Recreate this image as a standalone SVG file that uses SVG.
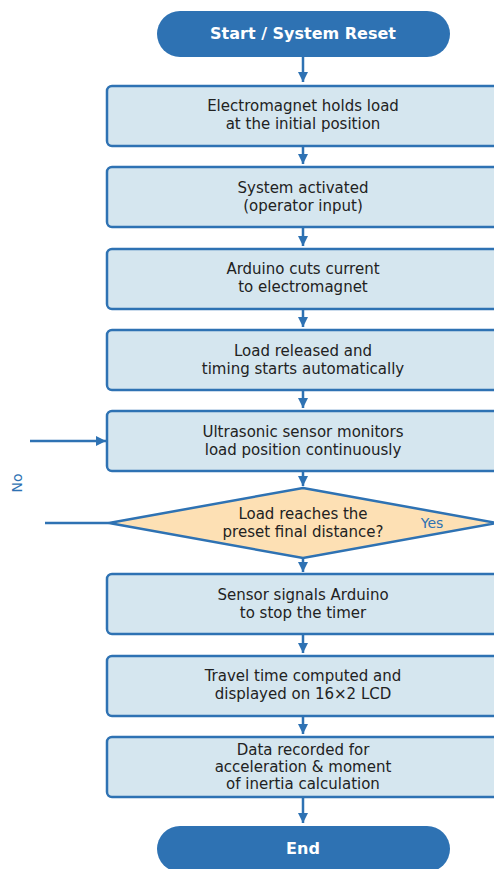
<svg xmlns="http://www.w3.org/2000/svg" width="494" height="869" viewBox="0 0 494 869">
  <defs>
    <marker id="arr" viewBox="0 0 10 10" refX="10" refY="5" markerWidth="10" markerHeight="10" markerUnits="userSpaceOnUse" orient="auto">
      <path d="M0,0 L10,5 L0,10 z" fill="#2e72b3"/>
    </marker>
    <style>
      .term { fill: #2e72b3; }
      .termtxt { font-family: "DejaVu Sans", sans-serif; font-size: 16px; font-weight: bold; fill: #ffffff; text-anchor: middle; }
      .box { fill: #d5e6ef; stroke: #2e72b3; stroke-width: 2.5; }
      .dec { fill: #fde0b4; stroke: #2e72b3; stroke-width: 2.5; }
      .txt { font-family: "DejaVu Sans", sans-serif; font-size: 15px; fill: #222222; text-anchor: middle; }
      .lbl { font-family: "DejaVu Sans", sans-serif; font-size: 14px; fill: #2e72b3; text-anchor: middle; }
      .edge { stroke: #2e72b3; stroke-width: 2.5; fill: none; }
    </style>
  </defs>
  <rect width="494" height="869" fill="#ffffff"/>

  <g id="start">
    <rect class="term" x="157" y="11" width="293" height="46" rx="23"/>
    <text class="termtxt" x="303" y="39">Start / System Reset</text>
  </g>
  <g id="hold">
    <rect class="box" x="107" y="86" width="394" height="60" rx="5"/>
    <text class="txt" x="303" y="111">Electromagnet holds load</text>
    <text class="txt" x="303" y="129">at the initial position</text>
  </g>
  <g id="activate">
    <rect class="box" x="107" y="167" width="394" height="60" rx="5"/>
    <text class="txt" x="303" y="193">System activated</text>
    <text class="txt" x="303" y="211">(operator input)</text>
  </g>
  <g id="cut">
    <rect class="box" x="107" y="249" width="394" height="60" rx="5"/>
    <text class="txt" x="303" y="274">Arduino cuts current</text>
    <text class="txt" x="303" y="292">to electromagnet</text>
  </g>
  <g id="release">
    <rect class="box" x="107" y="330" width="394" height="60" rx="5"/>
    <text class="txt" x="303" y="356">Load released and</text>
    <text class="txt" x="303" y="374">timing starts automatically</text>
  </g>
  <g id="monitor">
    <rect class="box" x="107" y="411" width="394" height="60" rx="5"/>
    <text class="txt" x="303" y="437">Ultrasonic sensor monitors</text>
    <text class="txt" x="303" y="455">load position continuously</text>
  </g>
  <g id="check">
    <polygon class="dec" points="303,488 497,523 303,558 109,523"/>
    <text class="txt" x="303" y="519">Load reaches the</text>
    <text class="txt" x="303" y="537">preset final distance?</text>
  </g>
  <g id="signal">
    <rect class="box" x="107" y="574" width="394" height="60" rx="5"/>
    <text class="txt" x="303" y="600">Sensor signals Arduino</text>
    <text class="txt" x="303" y="618">to stop the timer</text>
  </g>
  <g id="compute">
    <rect class="box" x="107" y="656" width="394" height="60" rx="5"/>
    <text class="txt" x="303" y="681">Travel time computed and</text>
    <text class="txt" x="303" y="699">displayed on 16×2 LCD</text>
  </g>
  <g id="record">
    <rect class="box" x="107" y="737" width="394" height="60" rx="5"/>
    <text class="txt" x="303" y="755">Data recorded for</text>
    <text class="txt" x="303" y="772">acceleration &amp; moment</text>
    <text class="txt" x="303" y="789">of inertia calculation</text>
  </g>
  <g id="end">
    <rect class="term" x="157" y="826" width="293" height="46" rx="23"/>
    <text class="termtxt" x="303" y="854">End</text>
  </g>

  <g id="connectors">
    <line class="edge" x1="303" y1="57" x2="303" y2="82" marker-end="url(#arr)"/>
    <line class="edge" x1="303" y1="146" x2="303" y2="164" marker-end="url(#arr)"/>
    <line class="edge" x1="303" y1="227" x2="303" y2="246" marker-end="url(#arr)"/>
    <line class="edge" x1="303" y1="309" x2="303" y2="327" marker-end="url(#arr)"/>
    <line class="edge" x1="303" y1="390" x2="303" y2="408" marker-end="url(#arr)"/>
    <line class="edge" x1="303" y1="471" x2="303" y2="486" marker-end="url(#arr)"/>
    <line class="edge" x1="303" y1="558" x2="303" y2="572" marker-end="url(#arr)"/>
    <line class="edge" x1="303" y1="634" x2="303" y2="653" marker-end="url(#arr)"/>
    <line class="edge" x1="303" y1="716" x2="303" y2="734" marker-end="url(#arr)"/>
    <line class="edge" x1="303" y1="797" x2="303" y2="823" marker-end="url(#arr)"/>
    <line class="edge" x1="45" y1="523" x2="109" y2="523"/>
    <line class="edge" x1="30" y1="441" x2="106" y2="441" marker-end="url(#arr)"/>
    <text class="lbl" transform="translate(22,483) rotate(-90)">No</text>
    <text class="lbl" x="432" y="528">Yes</text>
  </g>
</svg>
